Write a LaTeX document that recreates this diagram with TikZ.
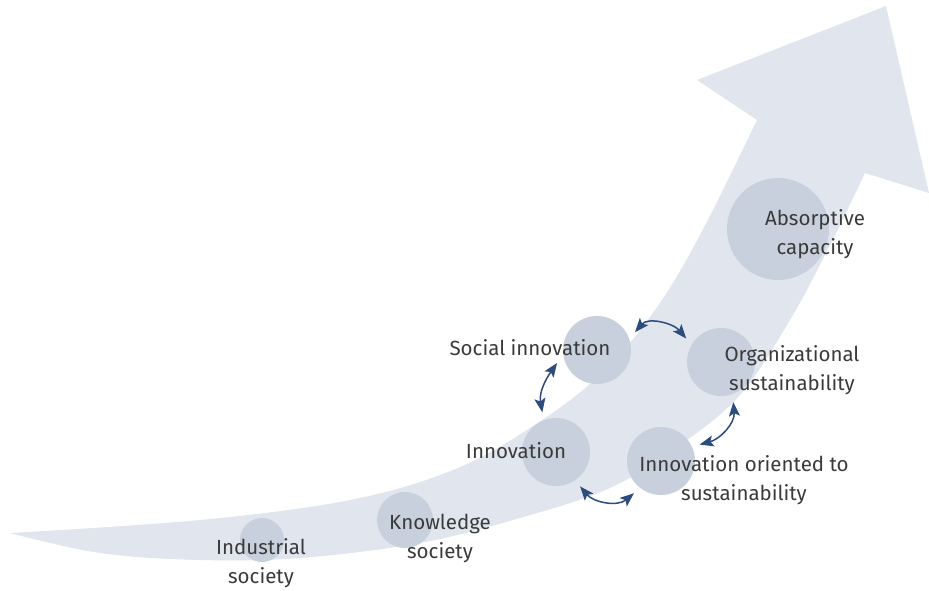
\documentclass[tikz,border=0pt]{standalone}
\usepackage{fontspec}
\setmainfont{Fira Sans}
\usetikzlibrary{arrows.meta}
\definecolor{bandcol}{HTML}{E1E6EE}
\definecolor{circcol}{HTML}{C9D0DD}
\definecolor{txtcol}{HTML}{3A3A3A}
\definecolor{arrcol}{HTML}{2C4C7C}
\tikzset{
  stage/.style={circle, fill=circcol, inner sep=0pt, outer sep=8pt, minimum size=#1},
  lbl/.style={text=txtcol, align=center, font=\fontsize{20.5}{29}\selectfont, inner sep=0pt},
  link/.style={draw=arrcol, line width=1.5pt, {Stealth[length=14pt,width=11pt,inset=3pt]}-{Stealth[length=14pt,width=11pt,inset=3pt]}},
}
\begin{document}
\begin{tikzpicture}[x=1pt,y=1pt]
\useasboundingbox (0,0) rectangle (929,590);
\fill[bandcol] plot[smooth,tension=0.6] coordinates {(10,57) (200,70) (350,90) (453,120) (530,162) (600,215) (655,280) (700,355) (757,470)}
  -- (697,510) -- (886,584) -- (929,397) -- (865,417)
  -- plot[smooth,tension=0.6] coordinates {(865,417) (830,345) (790,270) (740,195) (680,145) (610,102) (520,72) (420,47) (300,32) (200,30) (100,37) (10,57)} -- cycle;
\node[stage=44pt] (ind) at (262,50) {};
\node[stage=56pt] (kno) at (405,70) {};
\node[stage=68pt] (inn) at (556,138) {};
\node[stage=68pt] (si) at (597,240) {};
\node[stage=68pt] (ios) at (661,129) {};
\node[stage=68pt] (org) at (721,228) {};
\node[stage=102pt] (abs) at (778,361) {};
\node[lbl] (tind) at (261,27) {Industrial\\society};
\node[lbl] (tkno) at (440,51.5) {Knowledge\\society};
\node[lbl] (tinn) at (516,139) {Innovation};
\node[lbl] (tsi) at (530,242) {Social innovation};
\node[lbl] (tios) at (744,110) {Innovation oriented to\\sustainability};
\node[lbl] (torg) at (792,219.5) {Organizational\\sustainability};
\node[lbl] (tabs) at (815,356) {Absorptive\\capacity};
\draw[link] (si.198) to[out=235,in=100] (inn.109);
\draw[link] (si.25) to[out=50,in=130] (org.146);
\draw[link] (org.-73) to[out=-85,in=15] (ios.23);
\draw[link] (inn.-55) to[out=-50,in=-140] (ios.-130);
\end{tikzpicture}
\end{document}
